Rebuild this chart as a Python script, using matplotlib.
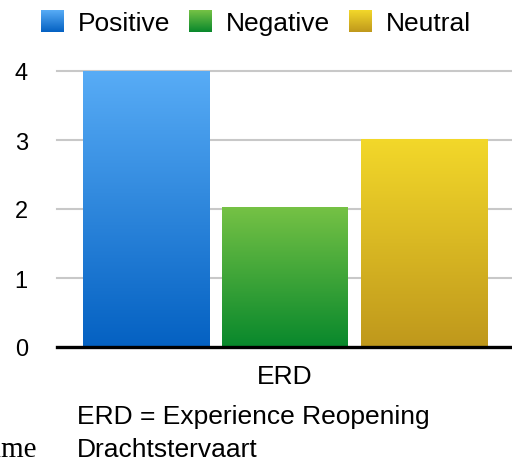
import numpy as np
import matplotlib
matplotlib.use("Agg")
import matplotlib.pyplot as plt
from matplotlib.colors import LinearSegmentedColormap
from matplotlib.legend_handler import HandlerBase
from matplotlib.image import BboxImage
from matplotlib.transforms import Bbox, TransformedBbox
from matplotlib.patches import Patch

plt.rcParams['font.family'] = ['Liberation Sans', 'DejaVu Sans']

# data
groups = ["ERD"]
series = ["Positive", "Negative", "Neutral"]
values = [4.0, 2.03, 3.02]
yticks = [0, 1, 2, 3, 4]
note_lines = ["ERD = Experience Reopening", "Drachtstervaart"]

# top / bottom gradient colours per series
grad_colors = {
    "Positive": ("#58acf6", "#0461c2"),
    "Negative": ("#76c245", "#08882c"),
    "Neutral": ("#f3d82a", "#bf981c"),
}


def make_cmap(name):
    top, bottom = grad_colors[name]
    return LinearSegmentedColormap.from_list(name, [bottom, top])


grad = np.linspace(0, 1, 256).reshape(-1, 1)


class GradientHandler(HandlerBase):
    def legend_artist(self, legend, orig_handle, fontsize, handlebox):
        x0, y0 = handlebox.xdescent, handlebox.ydescent
        w, h = handlebox.width, handlebox.height
        bb = TransformedBbox(Bbox.from_bounds(-x0, -y0, w, h),
                             handlebox.get_transform())
        img = BboxImage(bb, cmap=make_cmap(orig_handle.get_label()),
                        interpolation="bilinear", origin="lower")
        img.set_data(grad)
        handlebox.add_artist(img)
        return img


fig = plt.figure(figsize=(5.12, 4.64), dpi=100)
ax = fig.add_axes([57 / 512, 1 - 348 / 464, 455 / 512, 276 / 464])

width = 0.27
step = width * 1.1
for i, (name, v) in enumerate(zip(series, values)):
    x = (i - 1) * step
    bar = ax.bar(x, v, width=width, color="none", edgecolor="none", zorder=2)[0]
    im = ax.imshow(grad, cmap=make_cmap(name), origin="lower", aspect="auto",
                   extent=(x - width / 2, x + width / 2, 0, v),
                   interpolation="bilinear", zorder=2)
    im.set_clip_path(bar)

ax.set_xlim(-0.4886, 0.4864)
ax.set_ylim(0, 4)
ax.set_yticks(yticks)
ax.set_xticks([0])
ax.set_xticklabels(groups)
ax.tick_params(axis="both", length=0)
ax.tick_params(axis="y", pad=21, labelsize=17)
ax.tick_params(axis="x", pad=12, labelsize=19)
for s in ax.spines.values():
    s.set_visible(False)
for y in yticks[1:]:
    ax.axhline(y, color="#c8c8c8", lw=1.5, zorder=1, clip_on=False)
ax.axhline(0, color="black", lw=2.4, zorder=3, clip_on=False)

handles = [Patch(label=n) for n in series]
fig.legend(handles=handles, labels=series, loc="center",
           bbox_to_anchor=(256 / 512, 1 - 24 / 464), ncol=3, frameon=False,
           fontsize=19, handlelength=0.85, handleheight=0.85,
           handletextpad=0.55, columnspacing=0.7, borderpad=0,
           handler_map={Patch: GradientHandler()})

fig.text(77 / 512, 1 - 424 / 464, note_lines[0], fontsize=19, va="baseline")
fig.text(77 / 512, 1 - 457 / 464, note_lines[1], fontsize=19, va="baseline")
# tail of the body text running in from the left page margin
fig.text(37 / 512, 1 - 457 / 464, "time", fontsize=21, va="baseline",
         ha="right", family="Liberation Serif")

fig.savefig("out.png", dpi=100)
